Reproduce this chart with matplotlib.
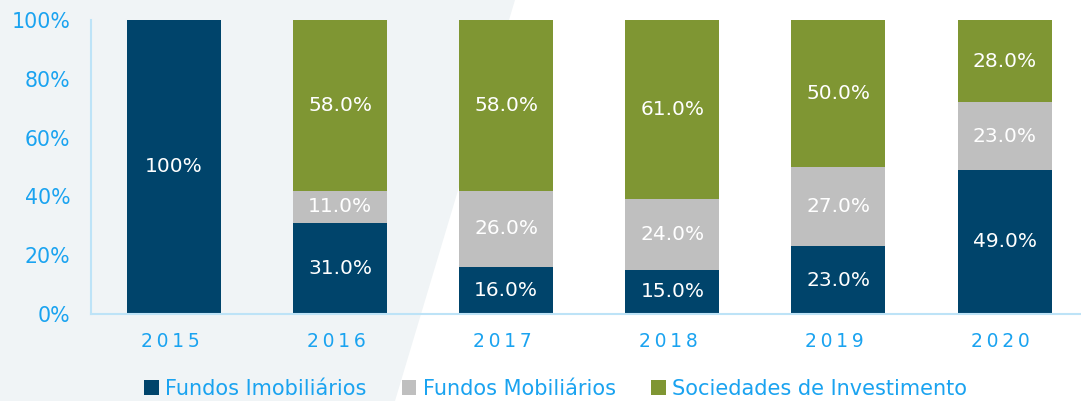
import matplotlib
matplotlib.use("Agg")
import matplotlib.pyplot as plt
from matplotlib.patches import Polygon, Patch
import numpy as np

years = ["2015", "2016", "2017", "2018", "2019", "2020"]
imobiliarios = [100, 31, 16, 15, 23, 49]
mobiliarios = [0, 11, 26, 24, 27, 23]
sociedades = [0, 58, 58, 61, 50, 28]
series_names = ["Fundos Imobiliários", "Fundos Mobiliários", "Sociedades de Investimento"]
yticks = [0, 20, 40, 60, 80, 100]

colors = ["#00446B", "#BFBFBF", "#7F9633"]
blue_txt = "#1AA3F0"
spine_c = "#BDE3F7"

plt.rcParams['font.family'] = ['DejaVu Sans']
fig = plt.figure(figsize=(10.81, 4.01), dpi=100)
fig.patch.set_facecolor("white")
# light background shape on the left
bg = Polygon([(0, 0), (395/1081, 0), (515/1081, 1), (0, 1)], closed=True,
             transform=fig.transFigure, facecolor="#F0F4F6", edgecolor="none", zorder=-10)
fig.patches.append(bg)

ax = fig.add_axes([91/1081, 1 - 314/401, 1 - 91/1081, (314 - 20)/401])
ax.set_facecolor("none")
x = np.arange(len(years))
w = 0.566
bottoms = np.zeros(len(years))
for vals, c in zip([imobiliarios, mobiliarios, sociedades], colors):
    vals = np.array(vals, dtype=float)
    ax.bar(x, vals, w, bottom=bottoms, color=c, edgecolor="none", zorder=2)
    for i, v in enumerate(vals):
        if v > 0:
            lbl = "100%" if v == 100 else f"{v:.1f}%"
            ax.text(x[i], bottoms[i] + v / 2, lbl, ha="center", va="center",
                    color="white", fontsize=14.5, zorder=3)
    bottoms += vals

ax.set_xlim(-0.5, 5.46)
ax.set_ylim(0, 100)
ax.set_yticks(yticks)
ax.set_yticklabels([f"{t}%" for t in yticks], fontsize=14.8, color=blue_txt)
ax.set_xticks(x)
ax.set_xticklabels(["\u2009".join(y) + "\u2009\u2009" for y in years], fontsize=13.5, color=blue_txt)
ax.tick_params(axis="y", length=0, pad=15)
ax.tick_params(axis="x", length=0, pad=13)
for s in ["top", "right"]:
    ax.spines[s].set_visible(False)
for s in ["left", "bottom"]:
    ax.spines[s].set_color(spine_c)
    ax.spines[s].set_linewidth(1.5)

handles = [Patch(facecolor=c, edgecolor="none") for c in colors]
leg = fig.legend(handles, series_names, loc="center", bbox_to_anchor=(0.514, 1 - 389/401),
                 ncol=3, frameon=False, fontsize=15, handlelength=0.7, handleheight=0.7,
                 handletextpad=0.3, columnspacing=1.7, borderaxespad=0)
for t in leg.get_texts():
    t.set_color(blue_txt)

fig.savefig("out.png", dpi=100, facecolor=fig.get_facecolor())
